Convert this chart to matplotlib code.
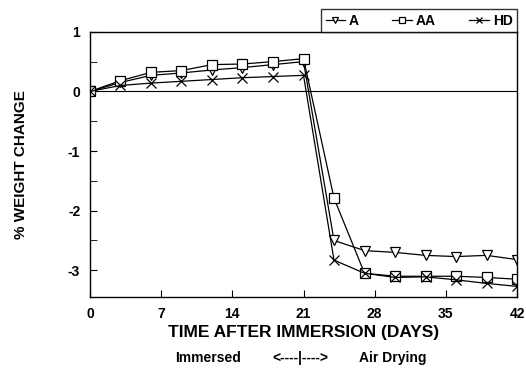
import matplotlib.pyplot as plt
from matplotlib.ticker import MultipleLocator

plt.rcParams['font.family'] = ['Liberation Sans', 'DejaVu Sans']
plt.rcParams['font.weight'] = 'bold'
plt.rcParams['axes.unicode_minus'] = False

days = [0, 3, 6, 9, 12, 15, 18, 21, 24, 27, 30, 33, 36, 39, 42]
A = [0, 0.15, 0.27, 0.31, 0.36, 0.40, 0.45, 0.50,
     -2.50, -2.67, -2.70, -2.75, -2.77, -2.75, -2.82]
AA = [0, 0.18, 0.32, 0.35, 0.45, 0.46, 0.50, 0.55,
      -1.79, -3.05, -3.10, -3.10, -3.10, -3.12, -3.15]
HD = [0, 0.10, 0.14, 0.17, 0.20, 0.23, 0.25, 0.27,
      -2.83, -3.05, -3.12, -3.11, -3.16, -3.22, -3.27]

fig = plt.figure(figsize=(5.26, 3.7), dpi=100)
ax = fig.add_axes([0.171, 0.197, 0.812, 0.717])

ax.axhline(0, color='black', linewidth=0.8)
kw = dict(color='black', linewidth=0.9, markersize=6.5, markerfacecolor='white',
          markeredgewidth=0.9)
ax.plot(days, A, marker='v', label='A', **kw)
ax.plot(days, AA, marker='s', label='AA', **kw)
ax.plot(days, HD, marker='x', label='HD', **kw)

ax.set_xlim(0, 42)
ax.set_ylim(-3.45, 1.0)
ax.set_xticks([0, 7, 14, 21, 28, 35, 42])
ax.set_yticks([1, 0, -1, -2, -3])
ax.yaxis.set_minor_locator(MultipleLocator(0.5))
ax.tick_params(direction='in', labelsize=10, length=5, pad=7)
ax.tick_params(which='minor', direction='in', length=5)
for s in ax.spines.values():
    s.set_linewidth(1.0)

ax.set_xlabel("TIME AFTER IMMERSION (DAYS)", fontsize=12.5, fontweight='bold', labelpad=3)
ax.set_ylabel("% WEIGHT CHANGE", fontsize=11, fontweight='bold', labelpad=29)

fig.text(0.395, 0.022, "Immersed", ha='center', fontsize=10, fontweight='bold')
fig.text(0.571, 0.022, "<----|---->", ha='center', fontsize=10, fontweight='bold')
fig.text(0.747, 0.022, "Air Drying", ha='center', fontsize=10, fontweight='bold')

leg = ax.legend(loc='lower right', bbox_to_anchor=(1.0, 1.0), ncol=3, frameon=True,
                fancybox=False, edgecolor='black', fontsize=10, handlelength=1.4,
                handletextpad=0.3, columnspacing=2.4, borderaxespad=0.0,
                borderpad=0.3, markerscale=0.75)
leg.get_frame().set_linewidth(1.0)

plt.savefig("out.png", dpi=100)
